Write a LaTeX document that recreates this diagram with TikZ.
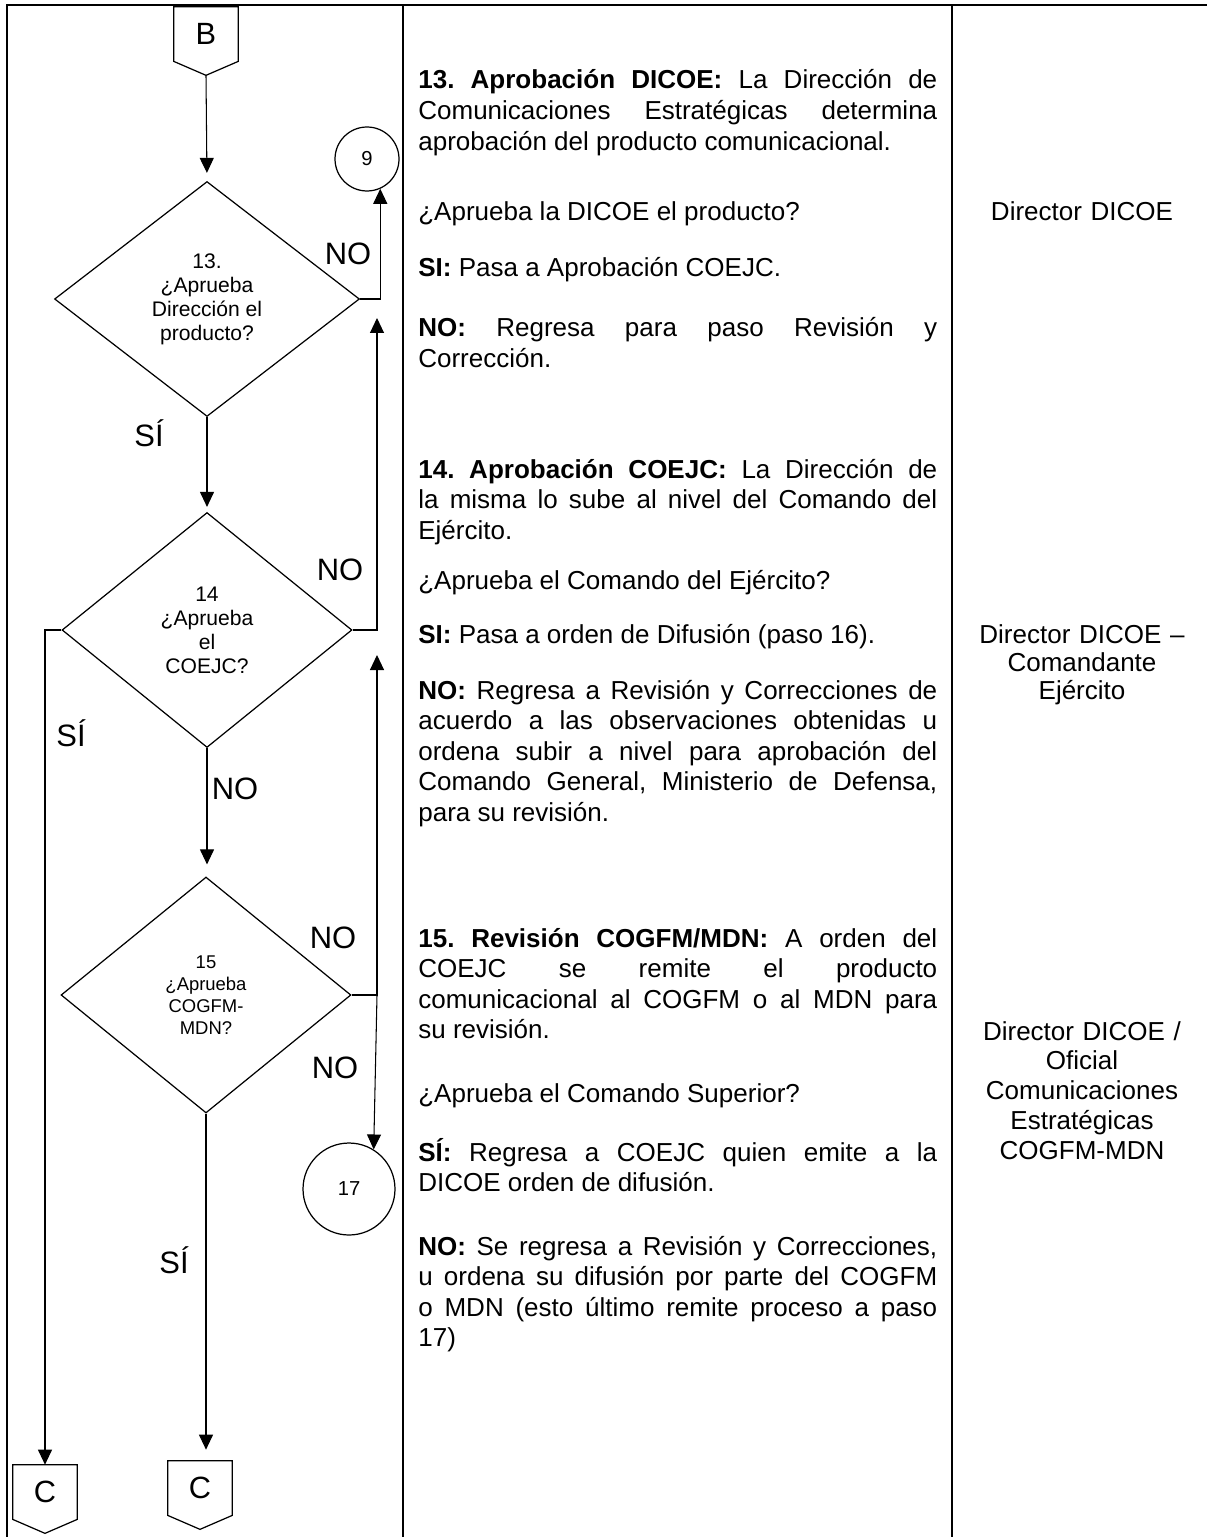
\documentclass[tikz,border=0pt]{standalone}
\usepackage{fontspec}
\setmainfont{Liberation Sans}
\usetikzlibrary{arrows.meta, positioning, shapes.geometric}
\tolerance=9999
\hbadness=10000
\frenchspacing

\begin{document}
\begin{tikzpicture}[x=0.02cm, y=-0.02cm, thin,
    >={Triangle[length=0.3cm, width=0.28cm]},
    decision/.style={diamond, draw, line width=0.7pt, inner sep=0pt, align=center, font=\fontsize{12}{13.7}\selectfont},
    link/.style={circle, draw, line width=0.7pt, inner sep=0pt, font=\fontsize{11.5}{13}\selectfont},
    offpage/.style={minimum width=1.28cm, minimum height=1.08cm, inner sep=0pt, font=\fontsize{17.5}{19}\selectfont},
    answer/.style={inner sep=0pt, font=\fontsize{17.6}{20}\selectfont},
    desc/.style={anchor=base west, inner sep=0pt, text width=10.38cm, align=justify, font=\fontsize{14.8}{17.4}\selectfont},
    role/.style={anchor=base, inner sep=0pt, text width=4.6cm, align=center, font=\fontsize{14.8}{17}\selectfont},
    flow/.style={->, line width=0.6pt},
    grid/.style={line width=1.3pt}]
    \useasboundingbox (0,0) rectangle (1207,1537);

    % table
    \draw[grid] (7,1537) -- (7,5) -- (1207,5);
    \draw[grid] (403,5) -- (403,1537);
    \draw[grid] (952,5) -- (952,1537);

    % flow column
    \node[offpage] (b) at (206,34) {B};
    \draw[line width=0.7pt] (b.north west) -- (b.north east) -- (b.south east) -- ([yshift=-0.28cm]b.south) -- (b.south west) -- cycle;
    \node[decision, minimum width=6.1cm, minimum height=4.7cm] (d13) at (207,299) {13.\\¿Aprueba\\Dirección el\\producto?};
    \node[link, minimum size=1.28cm] (p9) at (367,159) {9};
    \node[decision, minimum width=5.8cm, minimum height=4.7cm] (d14) at (207,630) {14\\¿Aprueba\\el\\COEJC?};
    \node[decision, minimum width=5.8cm, minimum height=4.72cm, font=\fontsize{10.5}{12.6}\selectfont] (d15) at (206,995) {15\\¿Aprueba\\COGFM-\\MDN?};
    \node[link, minimum size=1.84cm] (p17) at (349,1189) {17};
    \node[offpage] (c1) at (45,1492) {C};
    \draw[line width=0.7pt] (c1.north west) -- (c1.north east) -- (c1.south east) -- ([yshift=-0.28cm]c1.south) -- (c1.south west) -- cycle;
    \node[offpage] (c2) at (200,1488) {C};
    \draw[line width=0.7pt] (c2.north west) -- (c2.north east) -- (c2.south east) -- ([yshift=-0.28cm]c2.south) -- (c2.south west) -- cycle;

    \coordinate (up14) at (377,318);
    \coordinate (up15) at (377,655);
    \coordinate (j15) at (377,995);

    \draw[flow, shorten >=0.16cm] ([yshift=-0.28cm]b.south) -- (d13.north);
    \draw[flow] (d13.east) -| (p9.-66);
    \draw[flow, shorten >=0.1cm] (d13.south) -- (d14.north);
    \draw[flow] (d14.east) -| (up14);
    \draw[flow] (d14.west) -| (c1.north);
    \draw[flow, shorten >=0.24cm] (d14.south) -- (d14.south |- d15.north);
    \draw[flow] (d15.east) -| (up15);
    \draw[flow] (j15) -- (p17.58);
    \draw[flow, shorten >=0.22cm] (d15.south) -- (d15.south |- c2.north);

    \node[answer] (n13) at (348,254) {NO};
    \node[answer] (s13) at (149,433) {SÍ};
    \node[answer] (n14a) at (340,570) {NO};
    \node[answer] (s14) at (71,733) {SÍ};
    \node[answer] (n14b) at (235,789) {NO};
    \node[answer] (n15a) at (333,938) {NO};
    \node[answer] (n15b) at (335,1068) {NO};
    \node[answer] (s15) at (174,1260) {SÍ};

    % description column
    \node[desc] (t13a) at (418,89) {\textbf{13. Aprobación DICOE:} La Dirección de\linebreak Comunicaciones Estratégicas determina\linebreak aprobación del producto comunicacional.};
    \node[desc] (t13b) at (418,221) {¿Aprueba la DICOE el producto?};
    \node[desc] (t13c) at (418,276) {\textbf{SI:} Pasa a Aprobación COEJC.};
    \node[desc] (t13d) at (418,337) {\textbf{NO:} Regresa para paso Revisión y\linebreak Corrección.};
    \node[desc] (t14a) at (418,478) {\textbf{14. Aprobación COEJC:} La Dirección de\linebreak la misma lo sube al nivel del Comando del\linebreak Ejército.};
    \node[desc] (t14b) at (418,589) {¿Aprueba el Comando del Ejército?};
    \node[desc] (t14c) at (418,643) {\textbf{SI:} Pasa a orden de Difusión (paso 16).};
    \node[desc] (t14d) at (418,699) {\textbf{NO:} Regresa a Revisión y Correcciones de\linebreak acuerdo a las observaciones obtenidas u\linebreak ordena subir a nivel para aprobación del\linebreak Comando General, Ministerio de Defensa,\linebreak para su revisión.};
    \node[desc] (t15a) at (418,947) {\textbf{15. Revisión COGFM/MDN:} A orden del\linebreak COEJC se remite el producto\linebreak comunicacional al COGFM o al MDN para\linebreak su revisión.};
    \node[desc] (t15b) at (418,1102) {¿Aprueba el Comando Superior?};
    \node[desc] (t15c) at (418,1161) {\textbf{SÍ:} Regresa a COEJC quien emite a la\linebreak DICOE orden de difusión.};
    \node[desc] (t15d) at (418,1255) {\textbf{NO:} Se regresa a Revisión y Correcciones,\linebreak u ordena su difusión por parte del COGFM\linebreak o MDN (esto último remite proceso a paso\linebreak 17)};

    % responsible column
    \node[role] (r13) at (1082,221) {Director DICOE};
    \node[role, font=\fontsize{14.8}{16.2}\selectfont] (r14) at (1082,643) {Director DICOE –\\Comandante\\Ejército};
    \node[role] (r15) at (1082,1040) {Director DICOE /\\Oficial\\Comunicaciones\\Estratégicas\\COGFM-MDN};
\end{tikzpicture}
\end{document}
